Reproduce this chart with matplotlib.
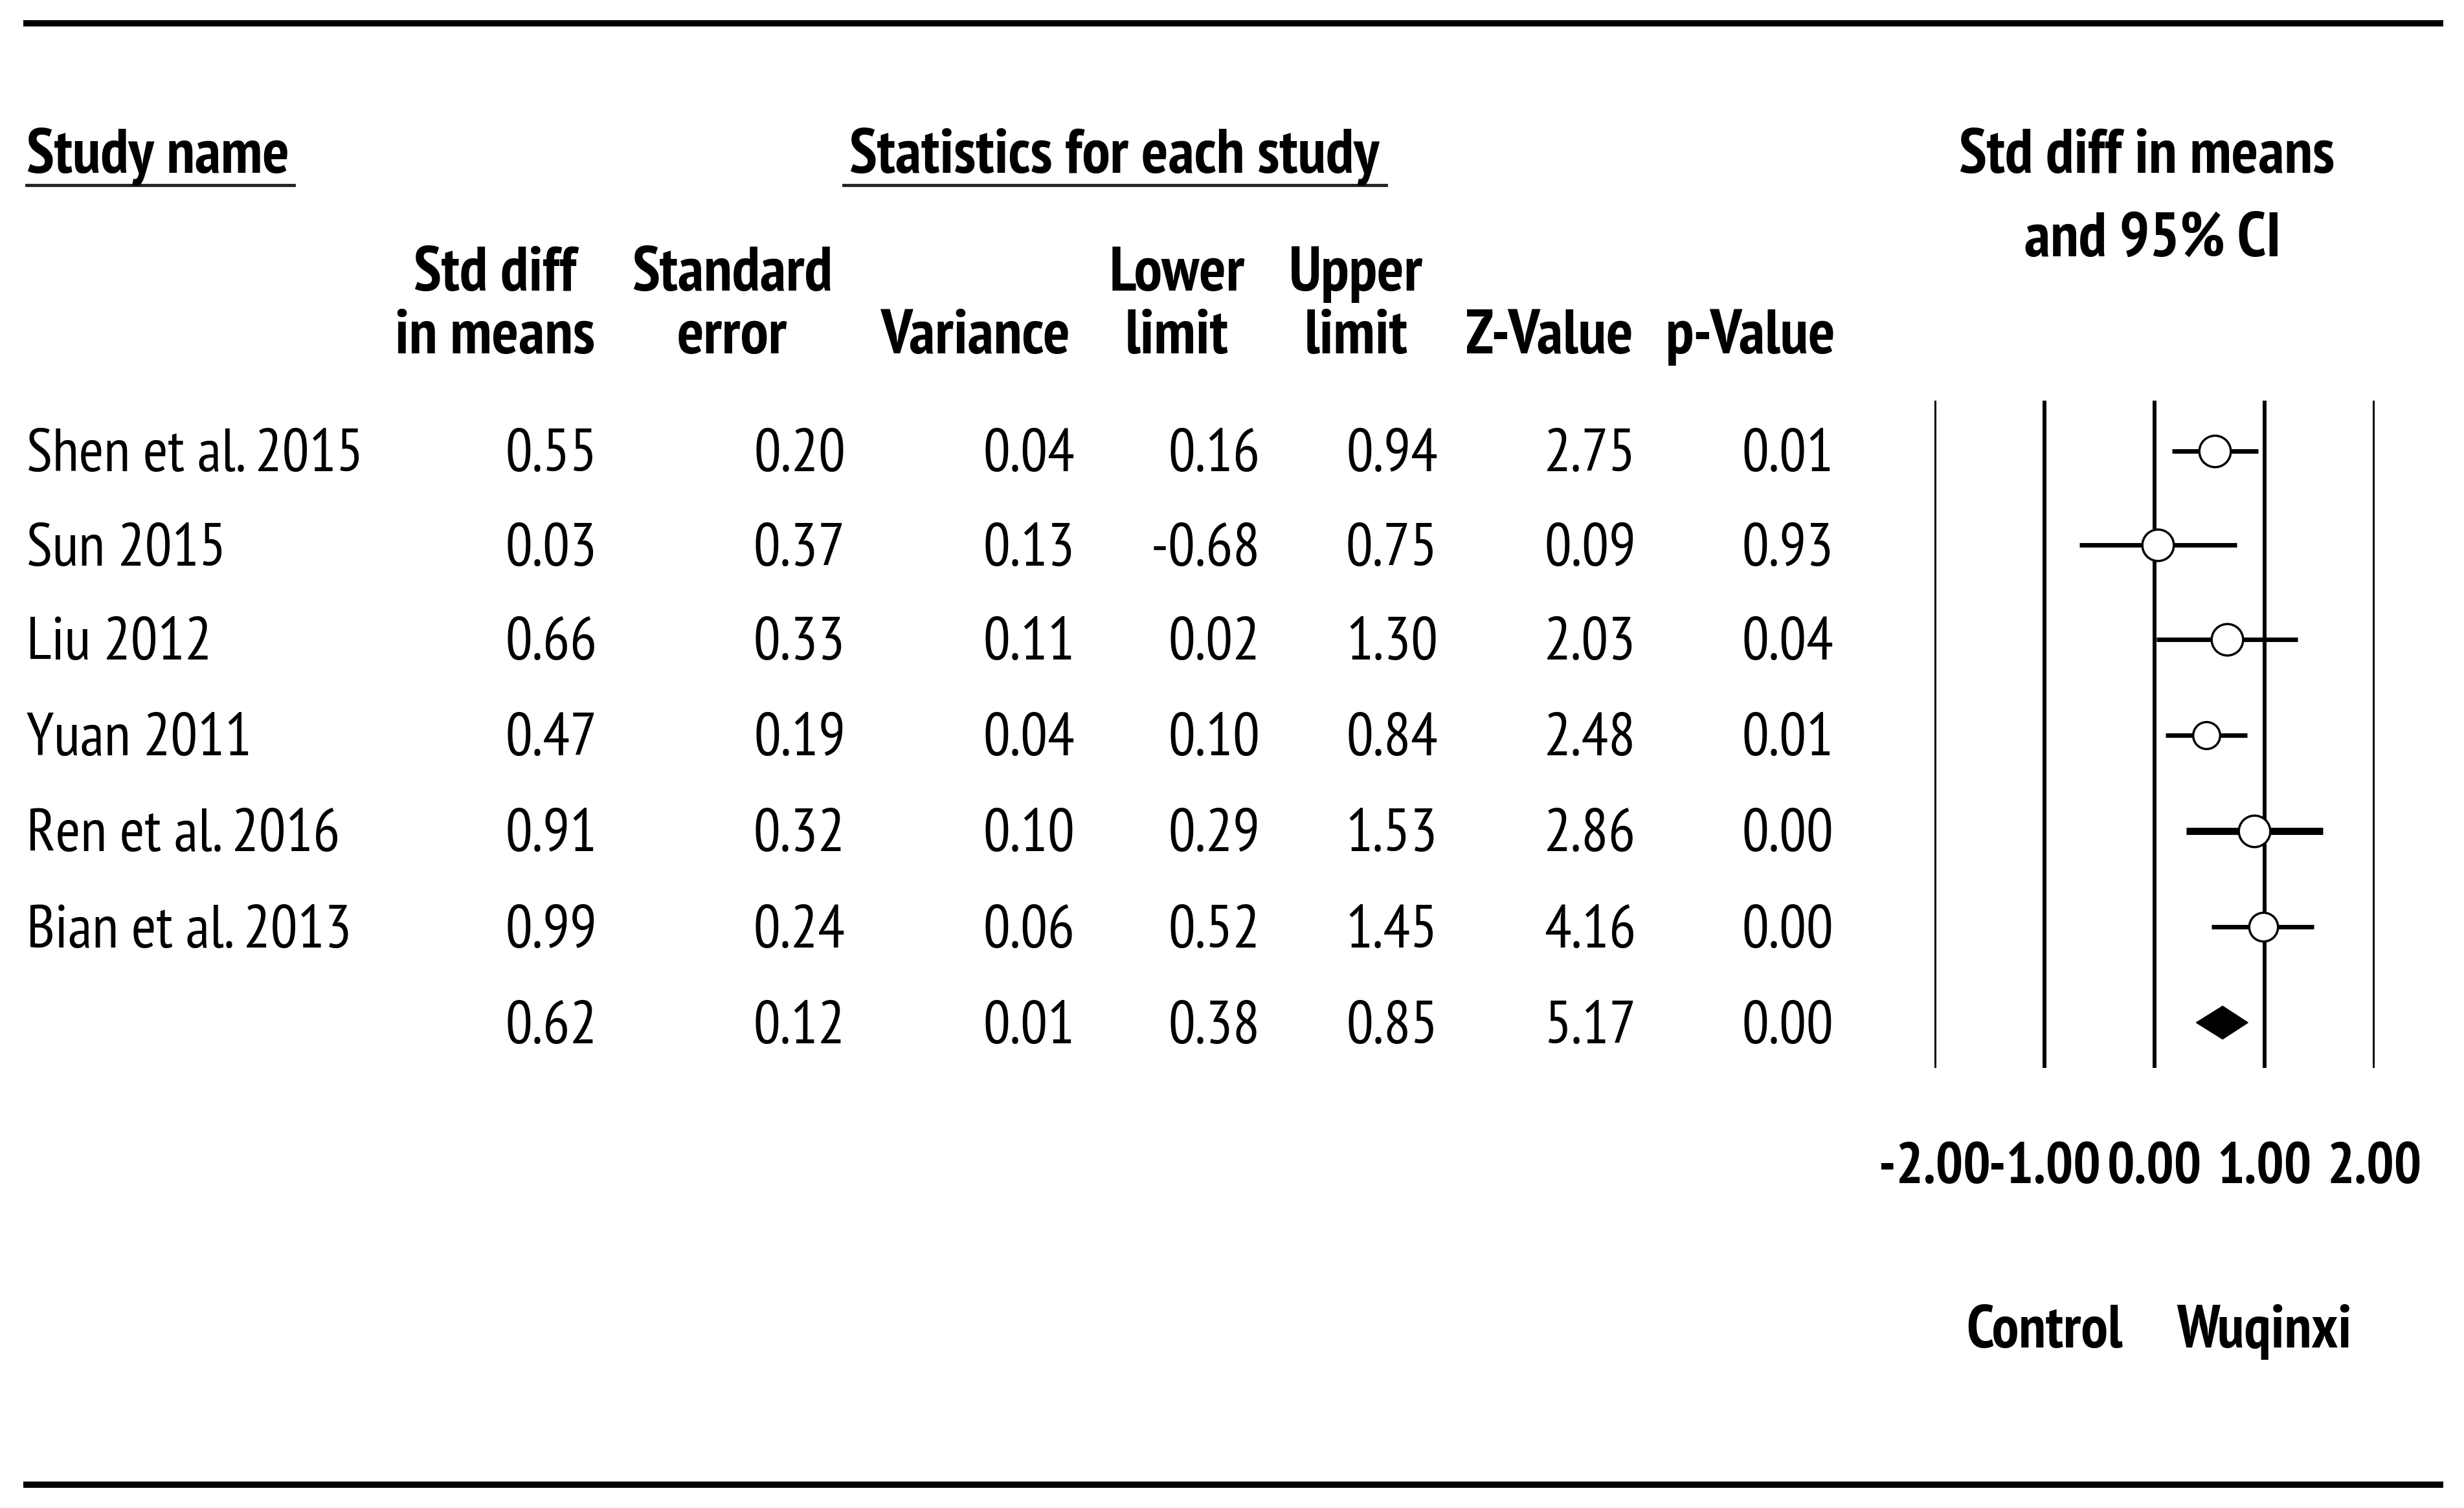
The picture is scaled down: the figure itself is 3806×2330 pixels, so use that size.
import matplotlib
matplotlib.use("Agg")
import matplotlib.pyplot as plt

# study data
studies = ["Shen et al. 2015", "Sun 2015", "Liu 2012", "Yuan 2011",
           "Ren et al. 2016", "Bian et al. 2013", ""]
std_diff = [0.55, 0.03, 0.66, 0.47, 0.91, 0.99, 0.62]
std_err = [0.20, 0.37, 0.33, 0.19, 0.32, 0.24, 0.12]
variance = [0.04, 0.13, 0.11, 0.04, 0.10, 0.06, 0.01]
lower = [0.16, -0.68, 0.02, 0.10, 0.29, 0.52, 0.38]
upper = [0.94, 0.75, 1.30, 0.84, 1.53, 1.45, 0.85]
z_value = [2.75, 0.09, 2.03, 2.48, 2.86, 4.16, 5.17]
p_value = [0.01, 0.93, 0.04, 0.01, 0.00, 0.00, 0.00]

head_top = ["Std diff", "Standard", "", "Lower", "Upper", "", ""]
head_bot = ["in means", "error", "Variance", "limit", "limit", "Z-Value", "p-Value"]
ticks = [-2.0, -1.0, 0.0, 1.0, 2.0]

plt.rcParams["font.family"] = ["PT Sans Narrow", "Liberation Sans", "DejaVu Sans"]
fs = 67      # body text
fsb = 70     # bold headers
fst = 64     # axis tick labels

W, H = 1568, 960
fig = plt.figure(figsize=(38.06, 23.30), dpi=100)
bg = fig.add_axes([0, 0, 1, 1])
bg.set_xlim(0, W)
bg.set_ylim(H, 0)
bg.axis("off")

# top and bottom rules
bg.plot([15, 1555], [15, 15], color="black", lw=7, solid_capstyle="butt")
bg.plot([15, 1555], [945, 945], color="black", lw=7, solid_capstyle="butt")

# section headers
bg.text(17, 110, "Study name", fontsize=fsb, fontweight="bold", va="baseline")
bg.plot([17, 187], [118, 118], color="#222222", lw=3.5)
bg.text(709, 110, "Statistics for each study", fontsize=fsb, fontweight="bold",
        va="baseline", ha="center")
bg.plot([537, 882], [118, 118], color="#222222", lw=3.5)
bg.text(1366, 110, "Std diff in means", fontsize=fsb, fontweight="bold",
        va="baseline", ha="center")
bg.text(1370, 163, "and 95% CI", fontsize=fsb, fontweight="bold",
        va="baseline", ha="center")

col_right = [380, 538, 684, 802, 915, 1041, 1167]
col_center = [315, 466, 621, 749, 863, 986, 1114]
for c, t1, t2 in zip(col_center, head_top, head_bot):
    bg.text(c, 185, t1, fontsize=fsb, fontweight="bold", va="baseline", ha="center")
    bg.text(c, 225, t2, fontsize=fsb, fontweight="bold", va="baseline", ha="center")

rows = [287, 347, 407, 468, 529, 590, 651]
columns = [std_diff, std_err, variance, lower, upper, z_value, p_value]
for i, y in enumerate(rows):
    bg.text(17, y + 13, studies[i], fontsize=fs, va="baseline")
    for xr, col in zip(col_right, columns):
        bg.text(xr, y + 13, f"{col[i]:.2f}", fontsize=fs, va="baseline", ha="right")

# forest plot
x0, x1 = 1231 / W, 1511 / W
ax = fig.add_axes([x0, 0, x1 - x0, 1])
ax.set_xlim(-2, 2)
ax.set_ylim(H, 0)
ax.axis("off")
ax.vlines(ticks, 255, 680, color="black", lw=4.3)

widths = [5, 5, 5, 5, 8, 5]
sizes = [35, 35, 35, 30, 35, 32]
for i in range(6):
    ax.plot([lower[i], upper[i]], [rows[i], rows[i]], color="black", lw=widths[i],
            solid_capstyle="butt", clip_on=False)
    ax.plot(std_diff[i], rows[i], "o", ms=sizes[i], mfc="white", mec="black", mew=2.5,
            clip_on=False)

# summary diamond
ys = rows[6]
ax.fill([lower[6], std_diff[6], upper[6], std_diff[6]], [ys, ys - 10.5, ys, ys + 10.5],
        color="black", clip_on=False)

for t in ticks:
    ax.text(t, 753, f"{t:.2f}", fontsize=fst, fontweight="bold", ha="center",
            va="baseline", clip_on=False)
ax.text(-1, 858, "Control", fontsize=fs, fontweight="bold", ha="center", va="baseline")
ax.text(1, 858, "Wuqinxi", fontsize=fs, fontweight="bold", ha="center", va="baseline")

fig.savefig("out.png", dpi=100)
